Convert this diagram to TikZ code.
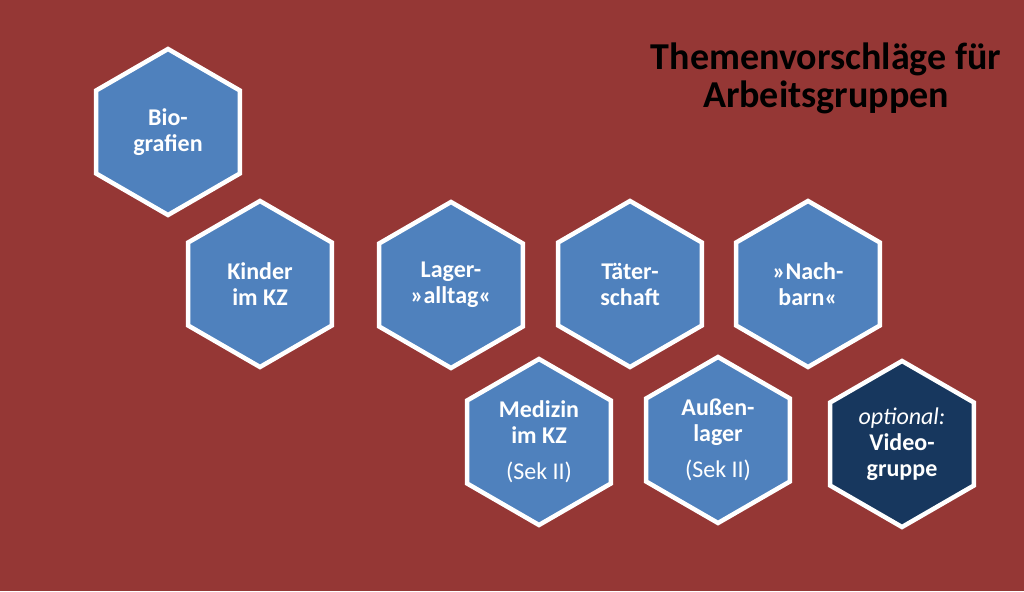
\documentclass[tikz,border=0pt]{standalone}
\usepackage{fontspec}
\setmainfont{Carlito}
\usetikzlibrary{shapes.geometric}
\definecolor{bgred}{HTML}{953735}
\definecolor{hexblue}{HTML}{4F81BD}
\definecolor{hexdark}{HTML}{17375E}
\tikzset{
  hexbox/.style={regular polygon, regular polygon sides=6, shape border rotate=30,
    minimum size=166pt, inner sep=0pt, draw=white, line width=4.5pt, fill=hexblue,
    text=white, align=center, font=\fontsize{24}{26}\selectfont\bfseries},
  hexdarkbox/.style={hexbox, fill=hexdark},
  titlebox/.style={align=center, text=black, font=\fontsize{38}{38}\selectfont\bfseries}
}
\begin{document}
\begin{tikzpicture}[x=1pt,y=-1pt]
\fill[bgred] (0,0) rectangle (1024,591);
\useasboundingbox (0,0) rectangle (1024,591);
\node[titlebox] (title) at (826,78) {Themenvorschläge für\\Arbeitsgruppen};
\node[hexbox] (bio) at (168,132) {\raisebox{0pt}[\height][\depth]{Bio-}\\grafien};
\node[hexbox] (kinder) at (260,284) {Kinder\\im KZ};
\node[hexbox] (lager) at (451,285) {Lager-\\»alltag«};
\node[hexbox] (taeter) at (630,284) {Täter-\\schaft};
\node[hexbox] (nach) at (808,284) {»Nach-\\barn«};
\node[hexbox] (medizin) at (539,442) {Medizin\\im KZ\\[10pt]{\mdseries (Sek II)}};
\node[hexbox] (aussen) at (718,440) {Außen-\\lager\\[10pt]{\mdseries (Sek II)}};
\node[hexdarkbox] (video) at (902,444) {{\mdseries\itshape optional:}\\Video-\\gruppe};
\end{tikzpicture}
\end{document}
